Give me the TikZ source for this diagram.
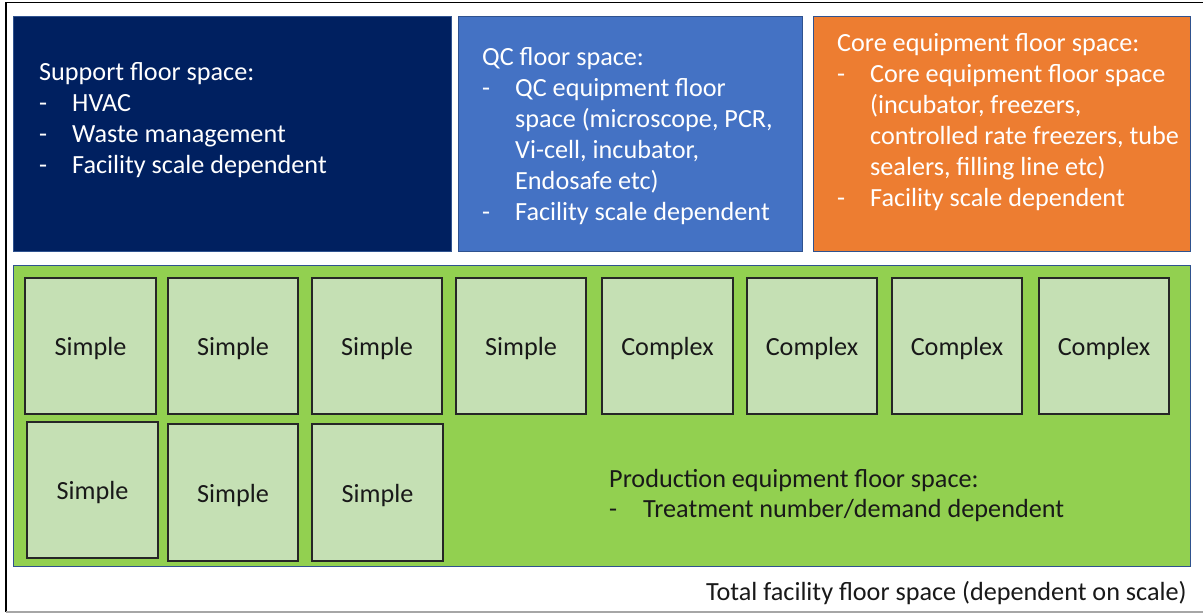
\documentclass[tikz,border=0pt]{standalone}
\usepackage{fontspec}
\setmainfont{Carlito}
\definecolor{navy}{HTML}{002060}
\definecolor{qcblue}{HTML}{4472C4}
\definecolor{coreorange}{HTML}{ED7D31}
\definecolor{prodgreen}{HTML}{92D050}
\definecolor{cellgreen}{HTML}{C5E0B4}
\definecolor{shapeedge}{HTML}{2F528F}
\begin{document}
\begin{tikzpicture}[x=1pt,y=-1pt,
  area/.style={draw=shapeedge, line width=0.8pt},
  cell/.style={draw=black!85, line width=1.2pt, fill=cellgreen},
  celltext/.style={font=\fontsize{26.2}{31}\selectfont, text=black!90},
  line/.style={anchor=base west, inner sep=0pt, font=\fontsize{26.2}{31}\selectfont},
  light/.style={line, text=white},
  dark/.style={line, text=black!90}]
\useasboundingbox (0,0) rectangle (1203,614);
\fill[white] (0,0) rectangle (1203,614);
% outer frame of the whole facility
\coordinate (ftl) at (6,2.5);
\coordinate (ftr) at (1203,2.5);
\coordinate (fbl) at (6,612);
\coordinate (fbr) at (1203,612);
\draw[black, line width=1.2pt] (fbl) -- (ftl) -- (ftr);
\draw[black!35, line width=1.2pt] (fbl) -- (fbr);

% top row of floor-space areas
\draw[area, fill=navy] (13,16) rectangle (451,251);
\draw[area, fill=qcblue] (458,16) rectangle (802,251);
\draw[area, fill=coreorange] (813,16) rectangle (1190,251);
% production area
\draw[area, fill=prodgreen] (13,265) rectangle (1190,566);

% support text
\node[light] (s0) at (39,80) {Support floor space:};
\node[light] (s1d) at (39,111) {-};
\node[light] (s1) at (72,111) {HVAC};
\node[light] (s2d) at (39,142) {-};
\node[light] (s2) at (72,142) {Waste management};
\node[light] (s3d) at (39,173) {-};
\node[light] (s3) at (72,173) {Facility scale dependent};

% QC text
\node[light] (q0) at (482,65) {QC floor space:};
\node[light] (q1d) at (482,96) {-};
\node[light] (q1) at (515,96) {QC equipment floor};
\node[light] (q2) at (515,127) {space (microscope, PCR,};
\node[light] (q3) at (515,158) {Vi-cell, incubator,};
\node[light] (q4) at (515,189) {Endosafe etc)};
\node[light] (q5d) at (482,220) {-};
\node[light] (q5) at (515,220) {Facility scale dependent};

% core equipment text
\node[light] (c0) at (837,51.5) {Core equipment floor space:};
\node[light] (c1d) at (837,82.5) {-};
\node[light] (c1) at (870,82.5) {Core equipment floor space};
\node[light] (c2) at (870,113.5) {(incubator, freezers,};
\node[light] (c3) at (870,144.5) {controlled rate freezers, tube};
\node[light] (c4) at (870,175.5) {sealers, filling line etc)};
\node[light] (c5d) at (837,206.5) {-};
\node[light] (c5) at (870,206.5) {Facility scale dependent};

% production cells, first row
\foreach \l/\r/\t [count=\i] in {25/156/Simple,168/298/Simple,312/442/Simple,456/586/Simple,602/733/Complex,747/877/Complex,892/1022/Complex,1039/1169/Complex}{
  \draw[cell] (\l,278) rectangle (\r,414);
  \node[celltext] (ra\i) at ({(\l+\r)/2},349) {\t};
}
% production cells, second row
\draw[cell] (27,422) rectangle (158,558);
\node[celltext] (rb1) at (92.5,493) {Simple};
\draw[cell] (168,424) rectangle (298,561);
\node[celltext] (rb2) at (233,495.5) {Simple};
\draw[cell] (312,424) rectangle (443,561);
\node[celltext] (rb3) at (377.5,495.5) {Simple};

% production text
\node[dark] (p0) at (609,487) {Production equipment floor space:};
\node[dark] (p1d) at (609,517) {-};
\node[dark] (p1) at (643,517) {Treatment number/demand dependent};

% caption
\node[dark] (tot) at (706,600) {Total facility floor space (dependent on scale)};
\end{tikzpicture}
\end{document}
